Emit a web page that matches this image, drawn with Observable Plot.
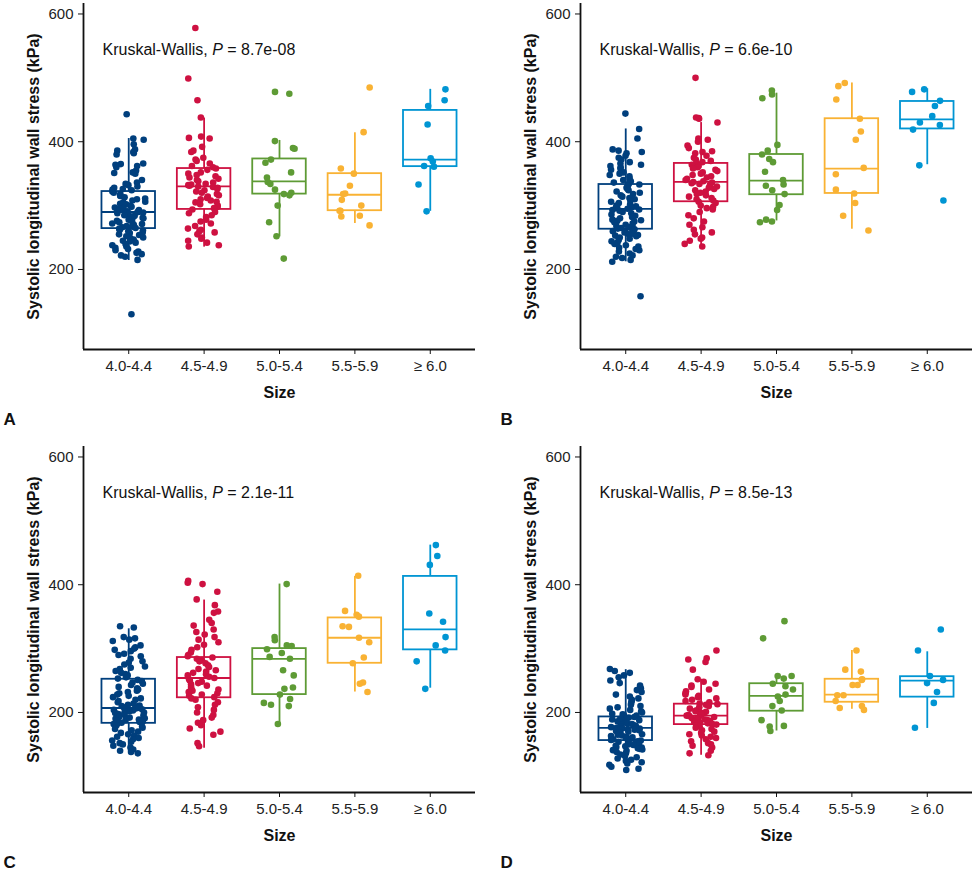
<!DOCTYPE html>
<html>
<head>
<meta charset="utf-8">
<script src="https://cdn.jsdelivr.net/npm/d3@7"></script>
<script src="https://cdn.jsdelivr.net/npm/@observablehq/plot@0.6"></script>
<style>
  html, body { margin: 0; padding: 0; background: #fff; }
  #wrap { position: relative; width: 975px; height: 870px; overflow: hidden; }
  .panel { position: absolute; }
</style>
</head>
<body>
<div id="wrap"></div>
<script>
// ---- categories, labels, colours ----
const sizes = ["4.0-4.4", "4.5-4.9", "5.0-5.4", "5.5-5.9", "\u2265 6.0"];
const colors = ["#003F7D", "#CE1141", "#5E9B35", "#F9B233", "#0095D3"];
const panelLetters = ["A", "B", "C", "D"];
const pValues = ["8.7e-08", "6.6e-10", "2.1e-11", "8.5e-13"];
const yTicks = [200, 400, 600];
const yTitle = "Systolic longitudinal wall stress (kPa)";
const xTitle = "Size";

// ---- Panel A points ----
const A_s1 = [443,405,403,396,388,386,384,382,380,366,365,364,362,360,355,352,351,350,340,336,334,332,330,328,326,325,324,322,320,318,316,315,313,311,310,308,306,305,303,302,300,298,297,296,295,293,292,291,290,290,289,288,287,285,284,283,282,281,280,278,277,276,275,274,272,271,270,268,267,266,265,264,263,262,261,260,258,257,255,254,252,250,249,247,245,244,242,240,238,236,234,232,230,228,226,224,222,220,215,130];
const A_s2 = [578,499,465,438,408,406,405,392,386,384,375,372,370,366,362,360,358,356,352,350,348,346,344,342,340,338,336,334,333,332,331,330,329,328,326,324,322,320,318,316,314,312,310,308,306,305,302,300,298,296,294,290,288,285,282,278,275,272,268,264,262,260,258,255,250,248,245,242,238,236];
const A_s3 = [478,475,401,390,389,372,367,352,344,337,334,325,320,318,316,300,274,252,217];
const A_s4 = [485,415,358,350,331,319,318,309,300,292,292,284,283,269];
const A_s5 = [482,465,456,427,374,369,362,361,333,291];
// ---- Panel B points ----
const B_s1 = [444,420,405,388,386,384,382,378,375,372,368,366,364,362,360,358,356,352,350,348,346,342,340,338,336,334,333,331,328,326,324,322,320,318,316,314,312,310,308,306,304,302,300,299,298,297,296,295,294,293,292,290,288,286,284,282,280,278,277,276,275,274,272,270,268,267,266,265,264,263,262,261,260,259,258,256,255,254,253,252,250,248,246,244,242,240,238,236,234,232,230,228,225,222,220,218,215,212,158];
const B_s2 = [500,438,437,436,430,405,403,400,394,390,385,384,382,378,375,372,370,368,366,364,362,360,358,356,354,352,350,348,346,344,342,340,338,337,336,335,334,332,330,328,326,324,322,320,318,316,314,312,310,308,306,304,300,298,296,294,290,285,280,275,270,266,262,258,255,250,248,245,240,236];
const B_s3 = [480,474,468,395,386,380,373,368,353,340,333,331,324,318,301,293,278,274,275];
const B_s4 = [492,487,466,436,416,403,359,349,325,319,304,284,261];
const B_s5 = [482,478,464,456,440,430,426,419,363,308];
// ---- Panel C points ----
const C_s1 = [335,333,318,316,314,312,305,302,300,298,296,292,290,288,284,280,278,275,272,270,268,265,262,260,258,255,253,251,249,247,245,243,240,238,236,234,232,230,228,226,224,222,220,218,216,214,212,211,210,209,208,207,206,205,204,203,202,201,200,199,198,197,196,195,194,193,192,191,190,189,188,187,186,185,184,183,182,181,180,178,176,174,172,170,168,166,164,162,160,158,156,154,152,150,148,145,142,140,138,136];
const C_s2 = [406,403,401,389,377,368,358,356,345,340,336,330,326,322,318,314,310,306,302,298,294,290,288,286,284,282,280,277,274,271,268,266,264,262,260,258,256,254,252,250,248,246,244,242,240,238,236,234,232,230,228,226,224,222,220,216,212,208,204,200,196,192,188,184,180,175,170,165,152,147];
const C_s3 = [401,318,313,305,304,299,293,287,284,266,258,239,237,228,221,215,210,212,182];
const C_s4 = [414,359,353,350,334,335,317,310,286,277,247,245,232];
const C_s5 = [462,445,431,355,342,318,305,297,280,237];
// ---- Panel D points ----
const D_s1 = [268,265,262,258,255,250,246,242,238,235,232,228,225,222,220,218,215,212,210,208,206,204,202,200,198,197,196,195,194,193,192,191,190,189,188,187,186,185,184,183,182,181,180,179,178,177,176,175,175,174,173,172,171,170,169,168,167,166,165,164,163,162,161,160,159,158,157,156,155,154,153,152,151,150,149,148,147,146,145,144,143,142,141,140,138,136,134,132,130,128,126,124,122,120,118,115,112,110];
const D_s2 = [297,285,283,279,267,252,248,245,242,240,236,233,230,228,226,224,222,220,218,216,214,213,212,210,208,206,204,203,202,201,200,199,198,197,196,195,194,193,192,191,190,189,188,187,186,185,184,183,182,181,180,178,176,174,172,170,168,166,164,162,160,158,155,152,150,148,145,140,136,133];
const D_s3 = [343,316,257,253,257,245,241,236,228,225,218,210,203,188,179,178,171];
const D_s4 = [297,264,267,252,251,243,243,227,227,218,210,207,204];
const D_s5 = [330,297,257,251,246,232,215,176];

// ---- box summaries: [group1..group5] ----
const A_lo  = [214, 235, 251, 272, 291];
const A_q1  = [264, 294, 318, 292, 361];
const A_med = [290, 330, 338, 317, 372];
const A_q3  = [322, 358, 373, 350, 449];
const A_hi  = [405, 437, 402, 414, 482];

const B_lo  = [212, 236, 276, 263, 364];
const B_q1  = [263, 306, 317, 319, 420];
const B_med = [295, 337, 339, 358, 435];
const B_q3  = [333, 366, 380, 436, 463];
const B_hi  = [420, 430, 476, 492, 483];

const C_lo  = [139, 144, 182, 232, 238];
const C_q1  = [183, 223, 228, 277, 298];
const C_med = [207, 254, 284, 317, 330];
const C_q3  = [252, 286, 300, 348, 413];
const C_hi  = [331, 376, 401, 413, 462];

const D_lo  = [120, 133, 171, 205, 175];
const D_q1  = [156, 181, 202, 216, 224];
const D_med = [176, 195, 226, 228, 250];
const D_q3  = [193, 213, 245, 252, 256];
const D_hi  = [267, 252, 257, 297, 295];

const yDomain = [74.7, 616.4];
const xDomain = [-0.6, 4.6];

const panelData = {
  A: {pts: [A_s1, A_s2, A_s3, A_s4, A_s5], lo: A_lo, q1: A_q1, med: A_med, q3: A_q3, hi: A_hi},
  B: {pts: [B_s1, B_s2, B_s3, B_s4, B_s5], lo: B_lo, q1: B_q1, med: B_med, q3: B_q3, hi: B_hi},
  C: {pts: [C_s1, C_s2, C_s3, C_s4, C_s5], lo: C_lo, q1: C_q1, med: C_med, q3: C_q3, hi: C_hi},
  D: {pts: [D_s1, D_s2, D_s3, D_s4, D_s5], lo: D_lo, q1: D_q1, med: D_med, q3: D_q3, hi: D_hi}
};
const panelPos = {A: [0, 0], B: [497, 0], C: [0, 443], D: [497, 443]};

// deterministic horizontal jitter (layout only, hashed from point index)
const jit = (j, g, p) => {
  const s = Math.sin((j + 1) * 12.9898 + (g + 1) * 78.233 + (p + 1) * 37.719) * 43758.5453;
  return ((s - Math.floor(s)) - 0.5) * 0.44;
};
const halfBox = 0.355;
const font = "'Liberation Sans', Arial, Helvetica, sans-serif";

function makePanel(key, idx) {
  const pd = panelData[key];
  const pts = [];
  pd.pts.forEach((arr, g) => arr.forEach((v, j) => pts.push({g: sizes[g], i: g, xj: g + jit(j, g, idx), v})));
  const boxes = sizes.map((s, g) => ({g: s, i: g, lo: pd.lo[g], q1: pd.q1[g], med: pd.med[g], q3: pd.q3[g], hi: pd.hi[g]}));
  const sw = 1.8;
  const svg = Plot.plot({
    width: 478, height: 427,
    marginLeft: 83, marginRight: 3, marginTop: 3, marginBottom: 78,
    x: {domain: xDomain},
    y: {domain: yDomain},
    color: {domain: sizes, range: colors},
    style: {fontFamily: font, fontSize: "15px", color: "#222", background: "white"},
    marks: [
      Plot.ruleX(boxes, {x: "i", y1: "lo", y2: "q1", stroke: "g", strokeWidth: sw}),
      Plot.ruleX(boxes, {x: "i", y1: "q3", y2: "hi", stroke: "g", strokeWidth: sw}),
      Plot.rect(boxes, {x1: d => d.i - halfBox, x2: d => d.i + halfBox, y1: "q1", y2: "q3", stroke: "g", fill: "white", strokeWidth: sw}),
      Plot.ruleY(boxes, {x1: d => d.i - halfBox, x2: d => d.i + halfBox, y: "med", stroke: "g", strokeWidth: sw}),
      Plot.dot(pts, {x: "xj", y: "v", fill: "g", r: 3.3}),
      Plot.ruleY([yDomain[0]], {stroke: "#111", strokeWidth: 1.8}),
      Plot.ruleX([xDomain[0]], {stroke: "#111", strokeWidth: 1.8}),
      Plot.axisY({ticks: yTicks, tickSize: 5, tickPadding: 5, label: null, fontSize: 15, stroke: "#111"}),
      Plot.axisX({ticks: [0, 1, 2, 3, 4], tickFormat: i => sizes[i], tickSize: 5, tickPadding: 6, label: null, fontSize: 15, stroke: "#111"}),
      Plot.text([yTitle], {frameAnchor: "left", dx: -50, rotate: -90, text: d => d, fontSize: 16, fontWeight: "bold", fill: "#111", textAnchor: "middle", lineAnchor: "middle"}),
      Plot.text([xTitle], {frameAnchor: "bottom", dy: 43, text: d => d, fontSize: 16, fontWeight: "bold", fill: "#111", lineAnchor: "middle"}),
      Plot.text([panelLetters[idx]], {frameAnchor: "bottom-left", dx: -80, dy: 75, text: d => d, fontSize: 17, fontWeight: "bold", fill: "#111", textAnchor: "start", lineAnchor: "bottom"}),
      Plot.text(["Kruskal-Wallis, P = " + pValues[idx]], {frameAnchor: "top-left", dx: 19, dy: 46, text: d => d, fontSize: 16, fill: "#111", textAnchor: "start", lineAnchor: "middle"})
    ]
  });
  // italic P in the test label
  d3.select(svg).selectAll("text").filter(function () { return this.textContent.startsWith("Kruskal"); }).each(function () {
    const t = d3.select(this);
    t.text(null);
    t.append("tspan").text("Kruskal-Wallis, ");
    t.append("tspan").attr("font-style", "italic").text("P");
    t.append("tspan").text(" = " + pValues[idx]);
  });
  const div = document.createElement("div");
  div.className = "panel";
  div.style.left = panelPos[key][0] + "px";
  div.style.top = panelPos[key][1] + "px";
  div.appendChild(svg);
  document.getElementById("wrap").appendChild(div);
}

panelLetters.forEach((k, i) => makePanel(k, i));
</script>
</body>
</html>
